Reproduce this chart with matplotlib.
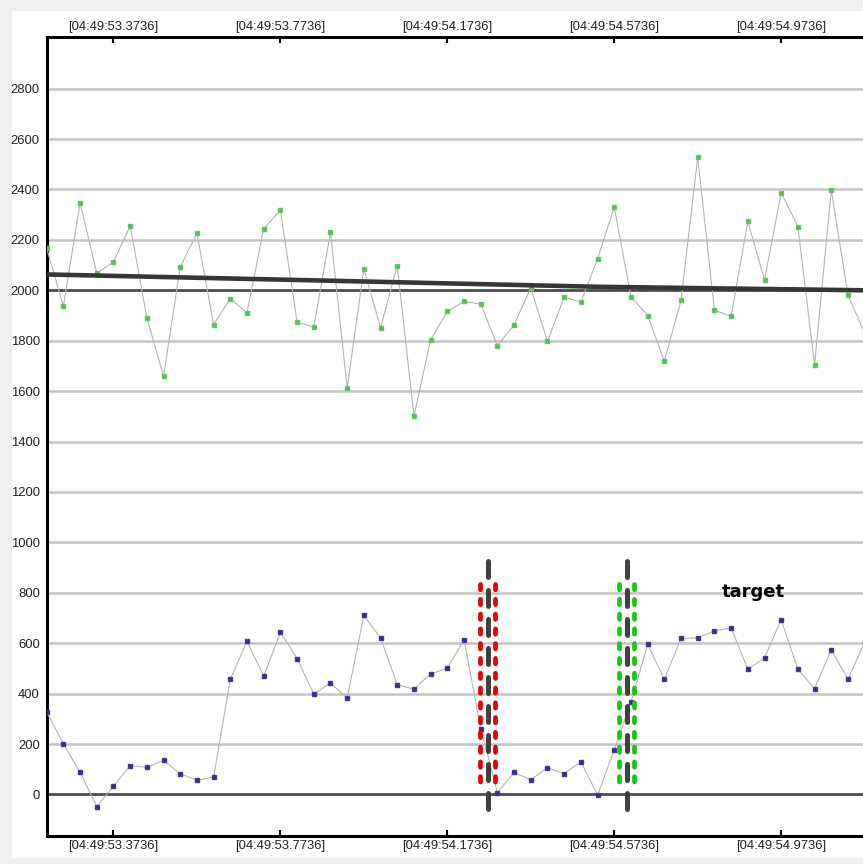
#!/usr/bin/env python3
"""Two sampled signals with trend line and event markers"""
import numpy as np
import matplotlib.pyplot as plt
from matplotlib.patches import Rectangle
from matplotlib.ticker import FuncFormatter

# sample clock: seconds within 04:49, one sample every 40 ms
t_start = 53.2136
t_step = 0.04

upper_values = [2166, 1937, 2347, 2068, 2112, 2256, 1891, 1659, 2093, 2226,
                1864, 1967, 1911, 2245, 2317, 1874, 1854, 2230, 1613, 2085,
                1851, 2098, 1501, 1804, 1916, 1956, 1945, 1781, 1863, 2010,
                1797, 1973, 1953, 2125, 2330, 1975, 1900, 1719, 1960, 2528,
                1921, 1897, 2273, 2042, 2387, 2253, 1704, 2399, 1981, 1830]

lower_values = [326, 201, 87, -48, 33, 114, 108, 135, 82, 56,
                69, 457, 607, 469, 643, 539, 398, 442, 382, 710,
                621, 435, 418, 479, 500, 614, 261, 7, 87, 58,
                106, 82, 130, -3, 177, 366, 595, 457, 619, 621,
                649, 660, 497, 542, 693, 496, 420, 574, 457, 603]

trend_times = [53.2136, 53.8136, 54.5336, 55.1736]
trend_values = [2063, 2041, 2014, 2000]

reference_levels = [0, 2000]
event_times = [54.2712, 54.6040]
event_colors = ['#e60000', '#14c814']
label_time = 54.9066
label_value = 805

x_ticks = [53.3736, 53.7736, 54.1736, 54.5736, 54.9736]
y_ticks = list(range(0, 2801, 200))

times = t_start + t_step * np.arange(len(upper_values))

fig = plt.figure(figsize=(8.63, 8.64), dpi=100, facecolor='#f0f0f0')
fig.patches.append(Rectangle((12 / 863, 6 / 864), 1, 847 / 864,
                             transform=fig.transFigure, facecolor='white',
                             edgecolor='none', zorder=-1))
ax = fig.add_axes([46.7 / 863, 28.5 / 864, 823.3 / 863, 798 / 864])
ax.set_zorder(1)
ax.set_facecolor('white')

# grid
for v in y_ticks:
    ax.axhline(v, color='#c4c4c4', lw=1.8, zorder=1)
for v in reference_levels:
    ax.axhline(v, color='#4a4a4a', lw=1.9, zorder=2)

# series
ax.plot(times, upper_values, color='#b4b4b4', lw=0.8, marker='s',
        markersize=2.2, markerfacecolor='#55bb55', markeredgecolor='#66c466',
        zorder=3)
ax.plot(times, lower_values, color='#b4b4b4', lw=0.8, marker='s',
        markersize=2.2, markerfacecolor='#2e2e8e', markeredgecolor='#3c3c96',
        zorder=3)
ax.plot(trend_times, trend_values, color='#363636', lw=3.3,
        solid_capstyle='butt', zorder=4)

# event markers
for t, c in zip(event_times, event_colors):
    for dx in (-0.0185, 0.0175):
        ax.plot([t + dx, t + dx], [835, 46], color=c, lw=3.4,
                linestyle=(0, (1.13, 2.0)), dash_capstyle='round', zorder=5)
    ax.plot([t, t], [928, -56], color='#404040', lw=3.6,
            linestyle=(0, (3.2, 2.6)), dash_capstyle='round', zorder=6,
            clip_on=False)

ax.text(label_time, label_value, 'target', fontsize=13, fontweight='bold',
        ha='center', va='center', color='black', zorder=7)

ax.set_xlim(53.2136, 55.1864)
ax.set_ylim(-163, 3003)
ax.set_xticks(x_ticks)
ax.xaxis.set_major_formatter(FuncFormatter(lambda t, p: f"[04:49:{t:07.4f}]"))
ax.set_yticks(y_ticks)
ax.tick_params(axis='x', which='both', direction='in', length=4, width=1.5,
               top=True, labeltop=True, labelsize=9.4, pad=3,
               labelcolor='#222222', labelfontfamily='Liberation Sans')
ax.tick_params(axis='y', length=0, labelsize=9.4, pad=5,
               labelcolor='#222222', labelfontfamily='Liberation Sans')

for side in ['left', 'top', 'bottom']:
    ax.spines[side].set_linewidth(2.2)
    ax.spines[side].set_color('black')
ax.spines['right'].set_visible(False)

fig.savefig('out.png', dpi=100, facecolor=fig.get_facecolor())
